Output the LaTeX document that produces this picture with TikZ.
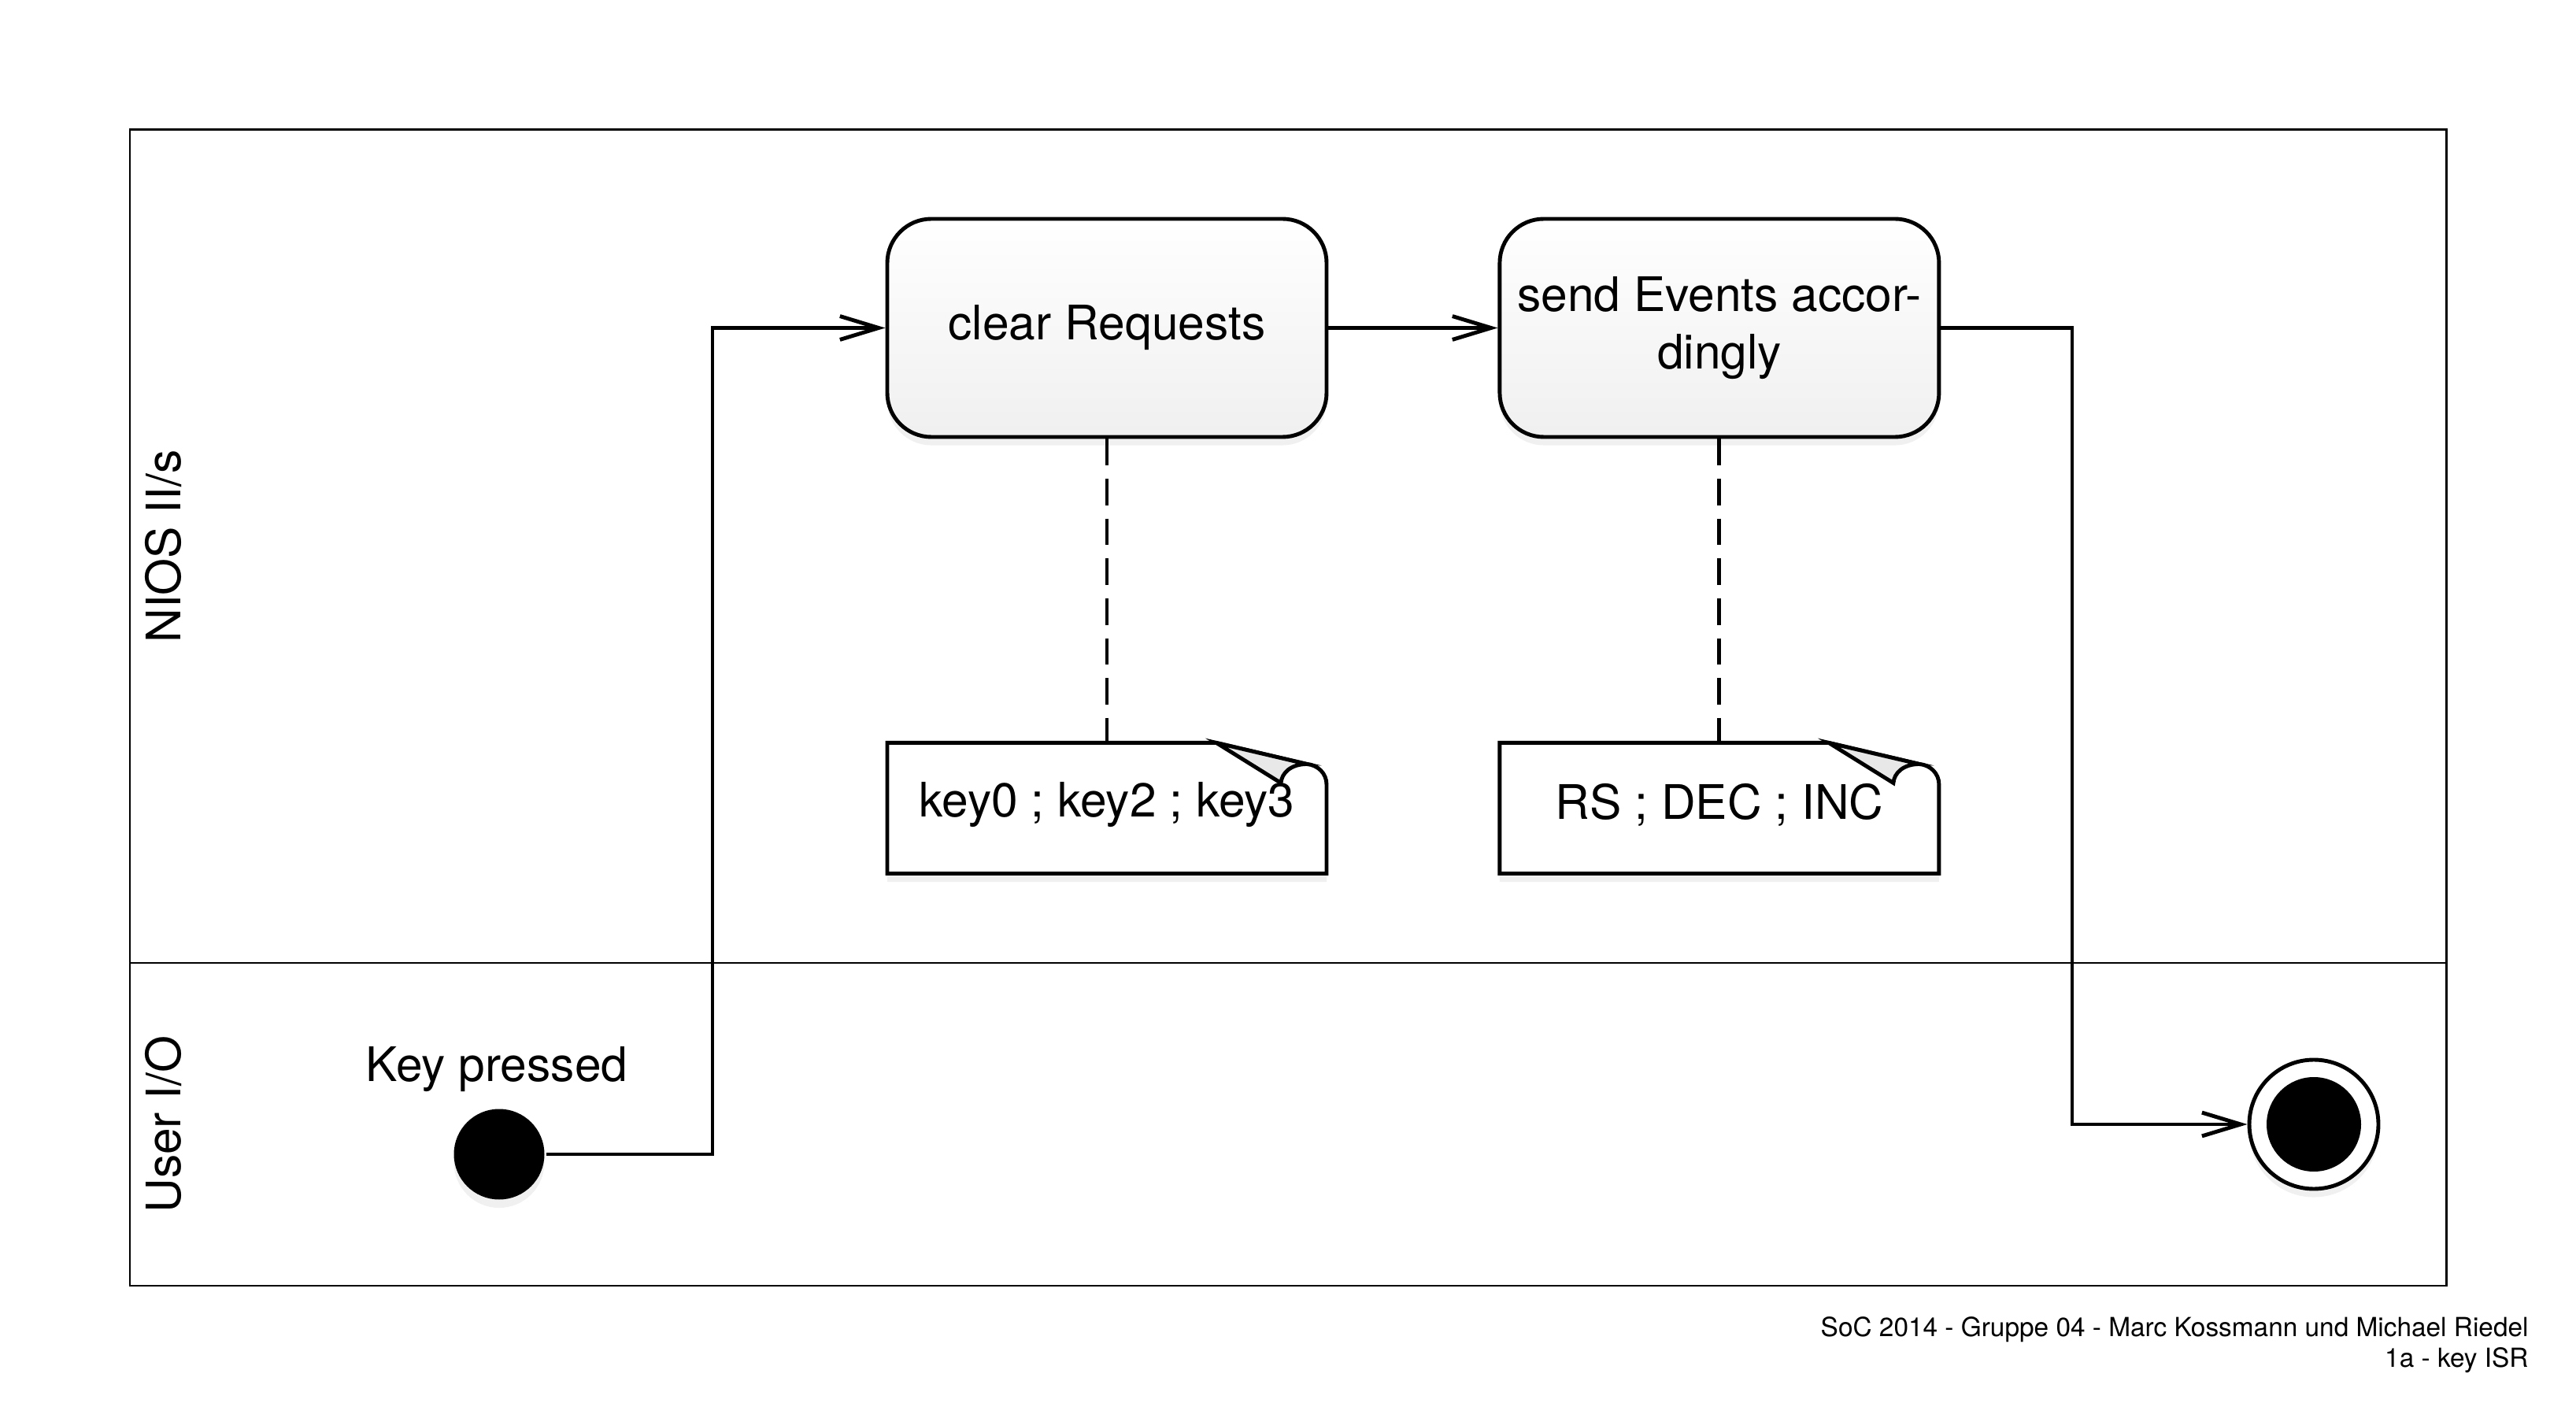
\documentclass[tikz,border=0pt]{standalone}
\usepackage{fontspec}
\setmainfont{TeX Gyre Heros}
\usetikzlibrary{arrows.meta,shadows,positioning}

\begin{document}
\begin{tikzpicture}[
  font=\fontsize{17.2}{20.6}\selectfont,
  line width=1.4pt,
  soft/.style={drop shadow={shadow xshift=0pt,shadow yshift=-3pt,opacity=.12}},
  flow/.style={-{Straight Barb[length=14pt,width=8.5pt]}},
  link/.style={dash pattern=on 9.6pt off 4.8pt},
  action/.style={draw, soft, rounded corners=.56cm, minimum width=5.58cm, minimum height=2.77cm,
    top color=white, bottom color=gray!12, align=center, inner sep=2pt},
  notebox/.style={minimum width=5.58cm, minimum height=1.66cm, inner sep=0pt, outer sep=0pt},
  lane/.style={line width=.85pt},
  footnote/.style={anchor=base east, inner sep=0pt, font=\fontsize{9.5}{11}\selectfont},
]
\useasboundingbox (0,0) rectangle (32.72,18);
% swimlanes
\draw[lane] (1.65,1.67) rectangle (31.07,16.35);
\draw[lane] (1.65,5.77) -- (31.07,5.77);
\node[rotate=90] (nios) at (2.08,11.06) {NIOS II/s};
\node[rotate=90] (userio) at (2.08,3.72) {User I/O};

% actions
\node[action] (clear) at (14.06,13.835) {clear Requests};
\node[action, right=2.15cm of clear] (send) {send Events accor-\\dingly};

% notes
\node[notebox, below=3.86cm of clear] (keys) {};
\node[notebox, below=3.86cm of send] (events) {};
\foreach \n in {keys,events} {
  \filldraw[fill=white, soft] (\n.south west) -- (\n.north west) -- ([xshift=-1.4cm]\n.north east)
    -- ([xshift=-.25cm,yshift=-.27cm]\n.north east) to[out=-5,in=90] ([yshift=-.53cm]\n.north east)
    -- (\n.south east) -- cycle;
  \filldraw[fill=gray!18] ([xshift=-1.4cm]\n.north east) -- ([xshift=-.58cm,yshift=-.51cm]\n.north east)
    .. controls ([xshift=-.57cm,yshift=-.38cm]\n.north east) and ([xshift=-.45cm,yshift=-.27cm]\n.north east)
    .. ([xshift=-.25cm,yshift=-.27cm]\n.north east) -- cycle;
}
\node at ([yshift=.04cm]keys) {key0 ; key2 ; key3};
\node at ([yshift=.04cm]events) {RS ; DEC ; INC};
\draw[link] (clear.south) -- (keys.north);
\draw[link] (send.south) -- (events.north);

% start and end
\node[circle, fill=black, soft, minimum size=1.15cm, inner sep=0pt] (start) at (6.34,3.34) {};
\node[anchor=base] (keylbl) at (6.31,4.27) {Key pressed};
\node[circle, draw, fill=white, soft, minimum size=1.64cm, inner sep=0pt] (stop) at (29.39,3.72) {};
\fill (stop) circle (.6);

% flow
\coordinate (bendin) at (9.05,0);
\coordinate (bendout) at (26.32,0);
\draw[flow] (start) -- (start -| bendin) |- (clear);
\draw[flow] (clear) -- (send);
\draw[flow] (send) -- (send -| bendout) |- (stop);

% footer
\node[footnote] (credits) at (32.14,1.03) {SoC 2014 - Gruppe 04 - Marc Kossmann und Michael Riedel};
\node[footnote] (title) at (32.14,.64) {1a - key ISR};
\end{tikzpicture}
\end{document}
